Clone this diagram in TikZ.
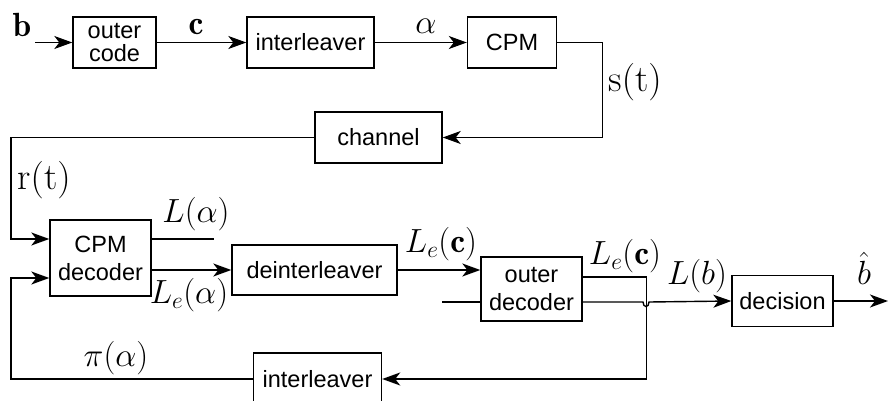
\RequirePackage{fix-cm}
\documentclass[tikz,border=0pt]{standalone}
\usepackage{fontspec}
\setsansfont{Liberation Sans}
\usetikzlibrary{arrows.meta,calc}

\begin{document}
\begin{tikzpicture}[x=1pt,y=-1pt,
    blk/.style={draw, line width=1.4pt, inner sep=0pt, align=center,
                font=\sffamily\fontsize{23.5}{28}\selectfont},
    wire/.style={line width=1.4pt},
    arr/.style={wire, -{Stealth[length=18pt,width=13pt,inset=5pt]}},
    lbl/.style={inner sep=0pt, font=\fontsize{33.5}{36}\selectfont},
    sig/.style={lbl, font=\fontsize{37.5}{40}\selectfont},
]
\useasboundingbox (0,0) rectangle (888,401);

\node[blk, minimum width=83pt, minimum height=51pt,
      font=\sffamily\fontsize{23.5}{23}\selectfont] (code) at (114.5,42.5) {outer\\code};
\node[blk, minimum width=127pt, minimum height=51pt] (intl) at (310.5,42.5) {interleaver};
\node[blk, minimum width=89pt, minimum height=51pt] (cpm) at (512,42.5) {CPM};
\node[blk, minimum width=127pt, minimum height=51pt] (chan) at (378.5,137.5) {channel};
\node[blk, minimum width=101pt, minimum height=76pt] (cpmdec) at (100.5,258) {CPM\\decoder};
\node[blk, minimum width=165pt, minimum height=50pt] (deint) at (314.5,270) {deinterleaver};
\node[blk, minimum width=101pt, minimum height=64pt] (outdec) at (531.5,289) {outer\\decoder};
\node[blk, minimum width=101pt, minimum height=51pt] (dec) at (782.5,301) {decision};
\node[blk, minimum width=128pt, minimum height=52pt] (intl2) at (317.5,379) {interleaver};

\coordinate (bin) at (35,42.5);
\coordinate (lin) at (442,302);
\coordinate (bout) at (888,301);

% transmitter
\draw[arr] (bin) -- (code);
\draw[arr] (code) -- (intl);
\draw[arr] (intl) -- (cpm);
\draw[arr] (cpm.east) -- ++(45,0) |- (chan.east);
\draw[arr] (chan.west) -- (11,137.5) |- ([yshift=19pt]cpmdec.west);

% receiver
\draw[wire] ([yshift=19pt]cpmdec.east) -- ++(62,0) coordinate (lout);
\draw[arr] ([yshift=-12pt]cpmdec.east) -- (deint.west);
\draw[arr] (deint.east) -- (deint.east -| outdec.west);
\draw[wire] (lin) -- ([yshift=-13pt]outdec.west);
\draw[arr] ([yshift=12pt]outdec.east) -- ++(64,0) |- (intl2.east);
\draw[arr] ([yshift=-13pt]outdec.east) -- (643,302)
    .. controls (643,308) and (649,308) .. (649,302) -- (dec.west);
\draw[arr] (dec.east) -- (bout);
\draw[arr] (intl2.west) -- (11,379) |- ([yshift=-20pt]cpmdec.west);

\node[lbl] (lb) at (22,25) {$\mathbf{b}$};
\node[lbl] (lc) at (196,27) {$\mathbf{c}$};
\node[lbl] (la) at (426,26) {$\alpha$};
\node[sig] (ls) at (635,82) {$\mathrm{s(t)}$};
\node[sig] (lr) at (44,180) {$\mathrm{r(t)}$};
\node[lbl] (lla) at (196,214) {$L(\alpha)$};
\node[lbl] (llea) at (189,295) {$L_e(\alpha)$};
\node[lbl] (llec) at (441,244) {$L_e(\mathbf{c})$};
\node[lbl] (llec2) at (625,256) {$L_e(\mathbf{c})$};
\node[lbl] (llb) at (697,276) {$L(b)$};
\node[lbl] (lbh) at (864,268) {$\hat{b}$};
\node[lbl] (lpi) at (116,358) {$\pi(\alpha)$};
\end{tikzpicture}
\end{document}
